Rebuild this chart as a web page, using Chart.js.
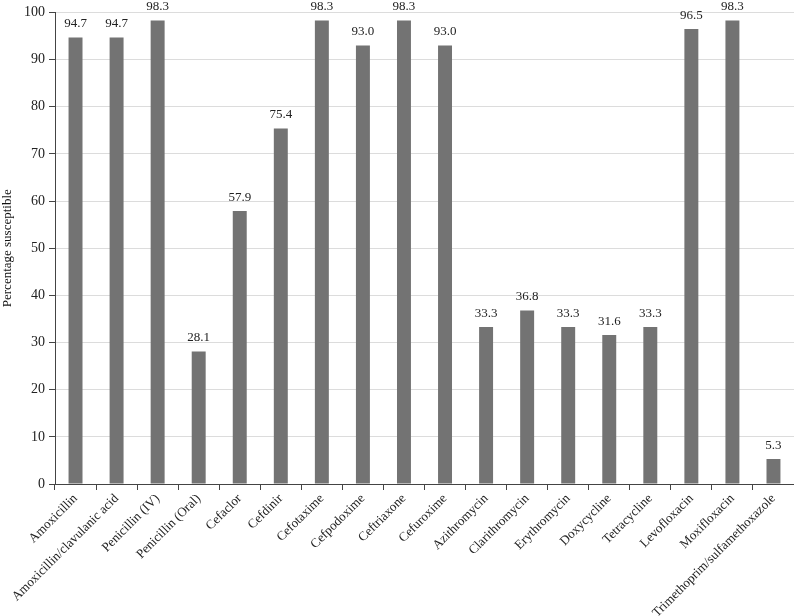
<!DOCTYPE html>
<html>
<head>
<meta charset="utf-8">
<script src="https://cdn.jsdelivr.net/npm/chart.js@4/dist/chart.umd.min.js"></script>
<style>
  html, body { margin: 0; padding: 0; background: #fff; }
  #wrap { width: 794px; height: 616px; position: relative; }
</style>
</head>
<body>
<div id="wrap"><canvas id="chart"></canvas></div>
<script>
const drugs = [
  "Amoxicillin", "Amoxicillin/clavulanic acid", "Penicillin (IV)", "Penicillin (Oral)",
  "Cefaclor", "Cefdinir", "Cefotaxime", "Cefpodoxime", "Ceftriaxone", "Cefuroxime",
  "Azithromycin", "Clarithromycin", "Erythromycin", "Doxycycline", "Tetracycline",
  "Levofloxacin", "Moxifloxacin", "Trimethoprim/sulfamethoxazole"
];
const susceptible = [94.7, 94.7, 98.3, 28.1, 57.9, 75.4, 98.3, 93.0, 98.3, 93.0, 33.3, 36.8, 33.3, 31.6, 33.3, 96.5, 98.3, 5.3];

const fontFamily = "'Liberation Serif', 'Times New Roman', serif";
const axisColor = "#444444";

// value labels drawn above each bar
const barLabels = {
  id: "barLabels",
  afterDatasetsDraw(chart) {
    const ctx = chart.ctx;
    const meta = chart.getDatasetMeta(0);
    ctx.save();
    ctx.font = "13px " + fontFamily;
    ctx.fillStyle = "#222";
    ctx.textAlign = "center";
    ctx.textBaseline = "alphabetic";
    meta.data.forEach((bar, i) => {
      ctx.fillText(susceptible[i].toFixed(1), bar.x, bar.y - 10);
    });
    ctx.restore();
  }
};

new Chart(document.getElementById("chart"), {
  type: "bar",
  data: {
    labels: drugs,
    datasets: [{
      data: susceptible,
      backgroundColor: "#737373",
      borderWidth: 0,
      categoryPercentage: 1,
      barPercentage: 0.34
    }]
  },
  options: {
    responsive: true,
    maintainAspectRatio: false,
    animation: false,
    layout: { padding: { top: 12, right: 0, left: 0, bottom: 0 } },
    plugins: {
      legend: { display: false },
      tooltip: { enabled: false }
    },
    scales: {
      x: {
        grid: { drawOnChartArea: false, drawTicks: true, tickLength: 6, tickColor: axisColor },
        border: { color: axisColor, width: 1 },
        ticks: {
          color: "#222",
          font: { family: fontFamily, size: 13 },
          minRotation: 45,
          maxRotation: 45,
          autoSkip: false,
          padding: 1
        },
        afterFit(scale) { scale.height = 132; }
      },
      y: {
        min: 0,
        max: 100,
        ticks: {
          stepSize: 10,
          color: "#222",
          font: { family: fontFamily, size: 14 },
          padding: 4
        },
        grid: { color: "#dcdcdc", tickColor: axisColor, tickLength: 6 },
        border: { color: axisColor, width: 1 },
        title: {
          display: true,
          text: "Percentage susceptible",
          color: "#111",
          font: { family: fontFamily, size: 13 },
          padding: { top: 0, bottom: 2 }
        },
        afterFit(scale) { scale.width = 55; }
      }
    }
  },
  plugins: [barLabels]
});
</script>
</body>
</html>
